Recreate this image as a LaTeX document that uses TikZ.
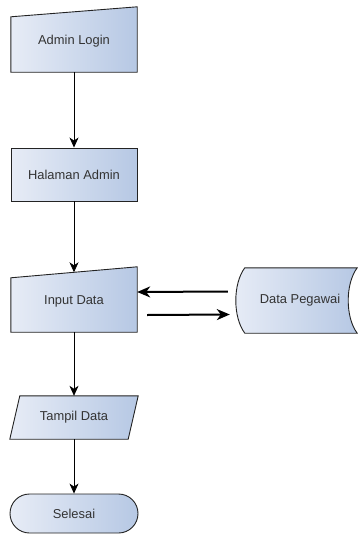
\documentclass[tikz,border=0pt]{standalone}
\usepackage{fontspec}
\setmainfont{Liberation Sans}
\usetikzlibrary{backgrounds,arrows.meta}
\definecolor{fillL}{RGB}{231,236,246}
\definecolor{fillR}{RGB}{182,200,228}
\definecolor{textgray}{RGB}{51,51,51}
\definecolor{edgegray}{RGB}{35,35,35}

\begin{document}
\begin{tikzpicture}[x=1pt,y=-1pt,
    every node/.style={font=\fontsize{12.9}{15}\selectfont, text=textgray},
    shadebox/.style={draw=edgegray, line width=0.9pt, left color=fillL, right color=fillR},
    proc/.style={shadebox, rectangle, minimum width=126pt, minimum height=53pt, inner sep=0pt},
    term/.style={shadebox, rectangle, rounded corners=19.5pt, minimum width=128pt, minimum height=39pt, inner sep=0pt},
    plainbox/.style={rectangle, inner sep=0pt},
    flow/.style={-{Stealth[length=10pt,width=9pt,inset=3pt]}, line width=0.8pt},
    bigflow/.style={-{Stealth[length=13pt,width=11pt,inset=4pt]}, line width=2pt}]

    \useasboundingbox (0,0) rectangle (357,535);

    %Noeuds
    \node[plainbox, minimum width=126pt, minimum height=61pt] (login) at (74,41.5) {Admin Login};
    \node[proc] (halaman) at (74,174.5) {Halaman Admin};
    \node[plainbox, minimum width=126pt, minimum height=62pt] (input) at (74,301) {Input Data};
    \node[plainbox, minimum width=128pt, minimum height=65pt] (data) at (300,300.5) {Data Pegawai};
    \node[plainbox, minimum width=128pt, minimum height=43pt] (tampil) at (74,417.5) {Tampil Data};
    \node[term] (selesai) at (74,513.5) {Selesai};

    %Formes derriere le texte
    \begin{scope}[on background layer]
        %saisie manuelle
        \path[shadebox] (login.south west) -- ([yshift=-6pt]login.north west)
            -- ([yshift=4pt]login.north east) -- (login.south east) -- cycle;
        \path[shadebox] (input.south west) -- ([yshift=-8pt]input.north west)
            -- ([yshift=3pt]input.north east) -- (input.south east) -- cycle;
        %donnees stockees
        \path[shadebox] ([xshift=9pt]data.north west) -- ([xshift=-7pt]data.north east)
            .. controls ([xshift=-19pt,yshift=-16pt]data.north east) and ([xshift=-19pt,yshift=16pt]data.south east) .. ([xshift=-7pt]data.south east)
            -- ([xshift=9pt]data.south west)
            .. controls ([xshift=-3pt,yshift=16pt]data.south west) and ([xshift=-3pt,yshift=-16pt]data.north west) .. cycle;
        %parallelogramme
        \path[shadebox] (tampil.south west) -- ([xshift=10pt]tampil.north west)
            -- (tampil.north east) -- ([xshift=-10pt]tampil.south east) -- cycle;
    \end{scope}

    %Fleches
    \draw[flow] (login.south) -- (halaman.north);
    \draw[flow] (halaman.south) -- ([yshift=-2.5pt]input.north);
    \draw[flow] (input.south) -- (tampil.north);
    \draw[flow] (tampil.south) -- (selesai.north);

    %Echange avec Data Pegawai
    \draw[bigflow] ([xshift=-8pt,yshift=9pt]data.west) -- ([yshift=9pt]input.east);
    \draw[bigflow] ([xshift=10pt,yshift=-14pt]input.east) -- ([xshift=-6pt,yshift=-14pt]data.west);

\end{tikzpicture}
\end{document}
